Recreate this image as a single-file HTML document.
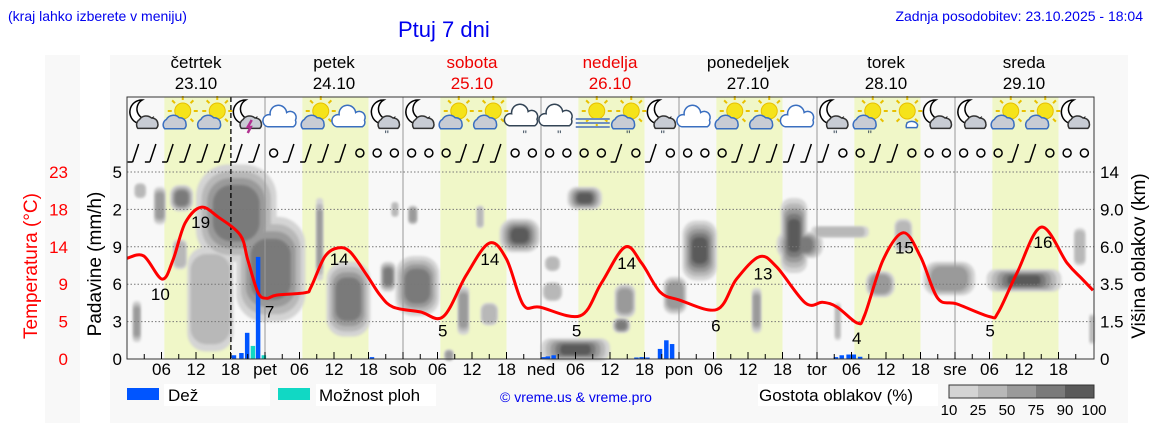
<!DOCTYPE html>
<html><head><meta charset="utf-8"><style>
body{margin:0;background:#fff;}
svg{display:block;font-family:"Liberation Sans","DejaVu Sans",sans-serif;}
</style></head><body>
<svg id="c" width="1152" height="443" viewBox="0 0 1152 443" xmlns="http://www.w3.org/2000/svg">
<defs><filter id="bl" x="-50%" y="-50%" width="200%" height="200%"><feGaussianBlur stdDeviation="1.2"/></filter></defs>
<rect x="45" y="55" width="35" height="368" fill="#f8f8f8"/>
<rect x="110" y="55" width="1018" height="368" fill="#f8f8f8"/>
<text x="8" y="21" font-size="14" fill="#0000ee">(kraj lahko izberete v meniju)</text>
<text x="398" y="37" font-size="22" fill="#0000ee">Ptuj 7 dni</text>
<text x="1143" y="21" font-size="14" fill="#0000ee" text-anchor="end">Zadnja posodobitev: 23.10.2025 - 18:04</text>
<g id="bands"></g><g id="clouds"></g><g id="grid"></g><g id="bars"></g><g id="temp"></g><g id="icons"></g><g id="wind"></g><g id="axes"></g>
<g>
<rect x="127" y="388" width="32" height="12" fill="#0055ff"/>
<rect x="164" y="384" width="106" height="22" fill="#fff"/>
<text x="168" y="401" font-size="17">Dež</text>
<rect x="278" y="388" width="32" height="12" fill="#11d8c4"/>
<rect x="316" y="384" width="120" height="22" fill="#fff"/>
<text x="319" y="401" font-size="17">Možnost ploh</text>
<text x="500" y="402" font-size="14" fill="#0000ee">© vreme.us &amp; vreme.pro</text>
<rect x="758" y="384" width="180" height="22" fill="#fff"/>
<text x="759" y="401" font-size="17">Gostota oblakov (%)</text>
<g id="cbar"></g>
</g>
</svg>
<script>
const NS="http://www.w3.org/2000/svg";
const X0=127,PXH=5.75,Y0=359,LV=37.4;
const dayNames=["četrtek","petek","sobota","nedelja","ponedeljek","torek","sreda"];
const dayDates=["23.10","24.10","25.10","26.10","27.10","28.10","29.10"];
const dayAbbr=["","pet","sob","ned","pon","tor","sre"];
const tempHours=[0,2.9,6.1,8,10.1,12.9,15.8,19.7,21,22.8,24.3,26,31,32,34.4,36.7,38.8,41.7,44,46.3,51,55,59,63,66,68.9,71.8,78.8,82.5,86.6,89.5,92.7,96,102.6,106,110,113,118,121,123.5,127,128.3,131.5,135,138,141,144.3,150,151.5,154.8,159,163.5,166,168];
const tempVals=[12.6,12.9,10.0,12.4,17.0,19.0,17.8,15.5,12.4,8.3,7.6,8.0,8.3,9.0,12.8,13.9,13.4,10.5,8.0,6.5,5.9,5.3,10.5,14.5,12.5,6.8,6.5,5.4,9.5,14.0,12.0,8.4,7.4,6.2,10.0,12.8,11.5,7.0,7.1,6.5,4.5,5.5,12.4,15.8,12.8,7.6,6.9,5.3,5.8,10.8,16.5,12.0,10.1,8.6];
const tempLabelHours=[5.8,12.8,24.8,36.9,54.9,63.1,78.2,86.9,102.4,110.6,126.9,135.2,150.1,159.3];
const tempLabelTemps=[10.0,19.0,7.6,13.9,5.3,14.5,5.3,14.0,6.2,12.6,4.5,15.8,5.3,16.5];
const tempLabelText=["10","19","7","14","5","14","5","14","6","13","4","15","5","16"];
const tempLabelDy=[21,21,19,17,20,22,20,22,22,21,21,21,20,21];
const rainHours=[18.6,19.9,20.9,22.8,42.6,72.5,73.2,74.2,88.6,89.5,90.5,92.7,93.8,94.8,123.3,124.3,125.5,126.4,127.5];
const rainVals=[0.1,0.16,0.7,2.73,0.05,0.05,0.07,0.1,0.04,0.05,0.04,0.27,0.5,0.4,0.05,0.1,0.12,0.12,0.06];
const showerHours=[21.9,23.8];
const showerVals=[0.35,0.1];
const cloudH=[2.3,1.7,5.7,9.5,14.5,19,25,9.2,33.5,38.5,45.4,50.5,46.6,49.7,61.4,68.3,74,74,58.5,63,56,78,79.6,86.6,86,99.6,95.3,109.5,116,117,124,123.6,131,135,143,156,165.7,167.8];
const cloudL=[4.5,1.0,4.1,4.3,1.6,3.9,2.4,2.8,3.2,1.6,2.2,1.95,4.0,3.85,3.8,3.3,2.55,1.8,1.3,1.2,0.1,0.25,4.3,1.55,0.9,2.9,1.7,1.3,3.3,3.05,3.4,1.0,2.0,3.3,2.15,2.1,3.0,0.8];
const cloudW=[1,0.7,1,2,4,7,6,1.2,0.6,3.8,1.3,3.8,0.6,0.8,0.6,3.5,1.3,1.7,1,1.5,0.8,6,3,1.8,1.5,3,2,0.8,2.3,4,5,0.5,2.5,1.5,4.5,6.5,1,0.4];
const cloudV=[0.2,0.55,0.5,0.35,1.4,1.3,1.4,0.4,1.1,1.0,0.4,0.8,0.2,0.25,0.3,0.45,0.2,0.25,0.65,0.3,0.15,0.3,0.3,0.45,0.2,0.8,0.5,0.6,1.0,0.35,0.15,0.5,0.35,0.45,0.45,0.3,0.5,0.4];
const cloudD=[30,55,60,75,45,85,85,40,60,85,75,75,40,50,45,90,30,35,55,45,50,90,90,50,75,90,60,50,90,80,25,45,60,45,55,90,30,30];
const iconTypes=["mc","sc","sc","mt","cw","sc","cw","mr","mc","sc","sc","cr","cr","f","scr","mr","cw","sc","sc","cw","mr","scr","s","mc","mc","sc","sc","mc"];
const windTypes="bbbbbbbb"+"obbbbooo"+"ooobbboo"+"oooobobo"+"ooobbbbb"+"boobbooo"+"ooobbooo";
const densLevels=[10,25,50,75,90];
const densColors=["#d4d4d4","#b8b8b8","#9a9a9a","#7a7a7a","#5a5a5a"];
const xs=h=>X0+h*PXH;
const yl=v=>Y0-v*LV;
const yt=t=>Y0-t*187/23.4;
function mk(tag,attrs,parent){const e=document.createElementNS(NS,tag);for(const k in attrs)e.setAttribute(k,attrs[k]);parent.appendChild(e);return e;}
const g=id=>document.getElementById(id);
for(let d=0;d<7;d++){
 const r=mk('rect',{x:xs(d*24+6.5),y:97,width:11.5*PXH,height:262,fill:'#f0f7c8'},g('bands'));
 
 
 const t1=mk('text',{x:xs(d*24+12),y:68,'font-size':17,'text-anchor':'middle',fill:(d==2||d==3)?'#ee0000':'#000'},g('axes'));t1.textContent=dayNames[d];
 
 
 const t2=mk('text',{x:xs(d*24+12),y:89,'font-size':17,'text-anchor':'middle',fill:(d==2||d==3)?'#ee0000':'#000'},g('axes'));t2.textContent=dayDates[d];
 
 
}
for(let k=0;k<densLevels.length;k++){
 for(let i=0;i<cloudH.length;i++){
  if(cloudD[i]<densLevels[k])continue;
  const f=1-k*0.14;
  const w=cloudW[i]*f*PXH,h=cloudV[i]*f*LV;
  const e=mk('rect',{x:xs(cloudH[i])-w,y:yl(cloudL[i])-h,width:2*w,height:2*h,rx:Math.min(w,h)*0.8,fill:densColors[k],filter:'url(#bl)'},g('clouds'));
  
  
 }
}
for(let v=1;v<=5;v++){const l=mk('line',{x1:127,x2:1094,y1:yl(v),y2:yl(v),stroke:'#777','stroke-dasharray':'1.5,2','stroke-width':1},g('grid'));
 
 }
for(let d=1;d<7;d++){const l=mk('line',{x1:xs(d*24),x2:xs(d*24),y1:97,y2:359,stroke:'#999','stroke-width':1},g('grid'));
 
 }
const now=mk('line',{x1:xs(18.07),x2:xs(18.07),y1:97,y2:359,stroke:'#000','stroke-dasharray':'5,3','stroke-width':1.3},g('grid'));


const bw=4.5;
rainHours.forEach((h,i)=>{const b=mk('rect',{x:xs(h)-bw/2,y:yl(rainVals[i]),width:bw,height:rainVals[i]*LV,fill:'#0055ff'},g('bars'));
 
 });
showerHours.forEach((h,i)=>{const b=mk('rect',{x:xs(h)-bw/2,y:yl(showerVals[i]),width:bw,height:showerVals[i]*LV,fill:'#11d8c4'},g('bars'));
 
 });
const P=tempHours.map((h,i)=>[xs(h),yt(tempVals[i])]);
let dstr='M'+P[0][0].toFixed(1)+','+P[0][1].toFixed(1);
for(let i=0;i<P.length-1;i++){
 const p0=P[Math.max(0,i-1)],p1=P[i],p2=P[i+1],p3=P[Math.min(P.length-1,i+2)];
 const c1=[p1[0]+(p2[0]-p0[0])/6,p1[1]+(p2[1]-p0[1])/6],c2=[p2[0]-(p3[0]-p1[0])/6,p2[1]-(p3[1]-p1[1])/6];
 dstr+=`C${c1[0].toFixed(1)},${c1[1].toFixed(1)} ${c2[0].toFixed(1)},${c2[1].toFixed(1)} ${p2[0].toFixed(1)},${p2[1].toFixed(1)}`;
}
const tl=mk('path',{d:dstr,fill:'none',stroke:'#ff0000','stroke-width':3,'stroke-linejoin':'round'},g('temp'));


tempLabelHours.forEach((h,i)=>{const t=mk('text',{x:xs(h),y:yt(tempLabelTemps[i])+tempLabelDy[i],'font-size':17,'text-anchor':'middle'},g('temp'));t.textContent=tempLabelText[i];
 
 });
const fr=mk('path',{d:'M127,97H1094V359H127Z',fill:'none',stroke:'#333','stroke-width':1},g('axes'));


for(let h=3;h<168;h+=3){mk('line',{x1:xs(h),x2:xs(h),y1:359,y2:(h%6?354:352),stroke:'#000'},g('axes'));
 if(h%6==0&&h%24!=0){const t=mk('text',{x:xs(h),y:375,'font-size':17,'text-anchor':'middle'},g('axes'));t.textContent=String(h%24).padStart(2,'0');
 
 }
 if(h%24==0){const t=mk('text',{x:xs(h),y:375,'font-size':17,'text-anchor':'middle'},g('axes'));t.textContent=dayAbbr[h/24];
 
 }}
const tempTicks=["0","5","9","14","18","23"],rainTicks=["0","3","6","9","2","5"],kmTicks=["0","1.5","3.5","6.0","9.0","14"];
for(let v=0;v<=5;v++){
 let t=mk('text',{x:68,y:yl(v)+6,'font-size':17,'text-anchor':'end',fill:'#ff0000'},g('axes'));t.textContent=tempTicks[v];
 
 
 t=mk('text',{x:122,y:yl(v)+6,'font-size':17,'text-anchor':'end'},g('axes'));t.textContent=rainTicks[v];
 
 
 t=mk('text',{x:1100,y:yl(v)+6,'font-size':17},g('axes'));t.textContent=kmTicks[v];
 
 
}
function rot(txt,x,y,fill,name){const t=mk('text',{x:x,y:y,'font-size':19,'text-anchor':'middle',fill:fill,transform:`rotate(-90 ${x} ${y})`},g('axes'));t.textContent=txt;
 
 }
rot("Temperatura (°C)",37,266,'#ff0000','temperature-axis-title');
rot("Padavine (mm/h)",101,264,'#000','precipitation-axis-title');
rot("Višina oblakov (km)",1145,256,'#000','cloud-height-axis-title');
function cloud(G,x,y,s,fill,stroke){mk('path',{d:`M${x-13*s},${y+8*s} a6,6 0 0,1 ${2*s},${-11*s} a8,8 0 0,1 ${15*s},${-2*s} a6,6 0 0,1 ${8*s},${7*s} a5,5 0 0,1 ${-2*s},${6*s}z`,fill:fill,stroke:stroke,'stroke-width':1.5},G);}
function sun(G,x,y,r){mk('circle',{cx:x,cy:y,r:r,fill:'#f5e31a',stroke:'#e8c000','stroke-width':1},G);
 for(let a=0;a<8;a++){const an=a*Math.PI/4;mk('line',{x1:x+(r+3)*Math.cos(an),y1:y+(r+3)*Math.sin(an),x2:x+(r+7)*Math.cos(an),y2:y+(r+7)*Math.sin(an),stroke:'#e8c000','stroke-width':2},G);}}
iconTypes.forEach((tp,i)=>{
 const cx=xs(3+i*6),cy=116;const G=mk('g',{},g('icons'));
 
 
 if(tp[0]=='m'){mk('path',{d:`M${cx-2},${cy-16} a12,12 0 1,0 10,18 a10,10 0 1,1 -10,-18z`,fill:'#fff',stroke:'#000','stroke-width':1.5},G);}
 if(tp=='s'||tp=='sc'||tp=='f'||tp=='scr'){sun(G,cx+4,cy-5,8);}
 if(tp=='mc'||tp=='mt'||tp=='mr')cloud(G,cx+4,cy+6,0.8,'#c8ccd4','#333');
 if(tp=='sc'||tp=='scr')cloud(G,cx-3,cy+6,0.85,'#c8ccd4','#3a6fc0');
 if(tp=='cw')cloud(G,cx,cy+2,1.1,'#fff','#3a6fc0');
 if(tp=='cr')cloud(G,cx,cy+1,1.1,'#fff','#345');
 if(tp=='s')cloud(G,cx+9,cy+8,0.45,'#fff','#3a6fc0');
 if(tp=='cr'||tp=='mr'||tp=='scr'){const t=mk('text',{x:cx+1,y:cy+23,'font-size':12,'text-anchor':'middle',fill:'#345'},G);t.textContent='"';}
 if(tp=='mt'){mk('path',{d:`M${cx+4},${cy+4} l-4,7 h3 l-3,6`,fill:'none',stroke:'#b03090','stroke-width':2.5},G);}
 if(tp=='f'){for(let k=0;k<3;k++)mk('line',{x1:cx-17,x2:cx+17,y1:cy+3+k*4,y2:cy+3+k*4,stroke:'#7090c0','stroke-width':2},G);}
});
for(let i=0;i<56;i++){
 const cx=xs(1.5+i*3),cy=153;const tp=windTypes[i]||'o';
 if(tp=='o'){const c=mk('circle',{cx:cx,cy:cy,r:4,fill:'none',stroke:'#000','stroke-width':1.5},g('wind'));
  
  }
 else{const p=mk('path',{d:`M${cx-3},${cy+9} L${cx+3},${cy-9} M${cx-3},${cy+9} h-5`,fill:'none',stroke:'#000','stroke-width':1.5},g('wind'));
  
  }
}
const cbLabels=["10","25","50","75","90","100"];
densColors.forEach((c,i)=>{const r=mk('rect',{x:949+i*29,y:385,width:29,height:13,fill:c},g('cbar'));
 
 });
mk('rect',{x:949,y:385,width:145,height:13,fill:'none',stroke:'#333'},g('cbar'));
cbLabels.forEach((l,i)=>{const t=mk('text',{x:949+i*29,y:415,'font-size':15,'text-anchor':'middle'},g('cbar'));t.textContent=l;
 
 });
</script>
</body></html>
